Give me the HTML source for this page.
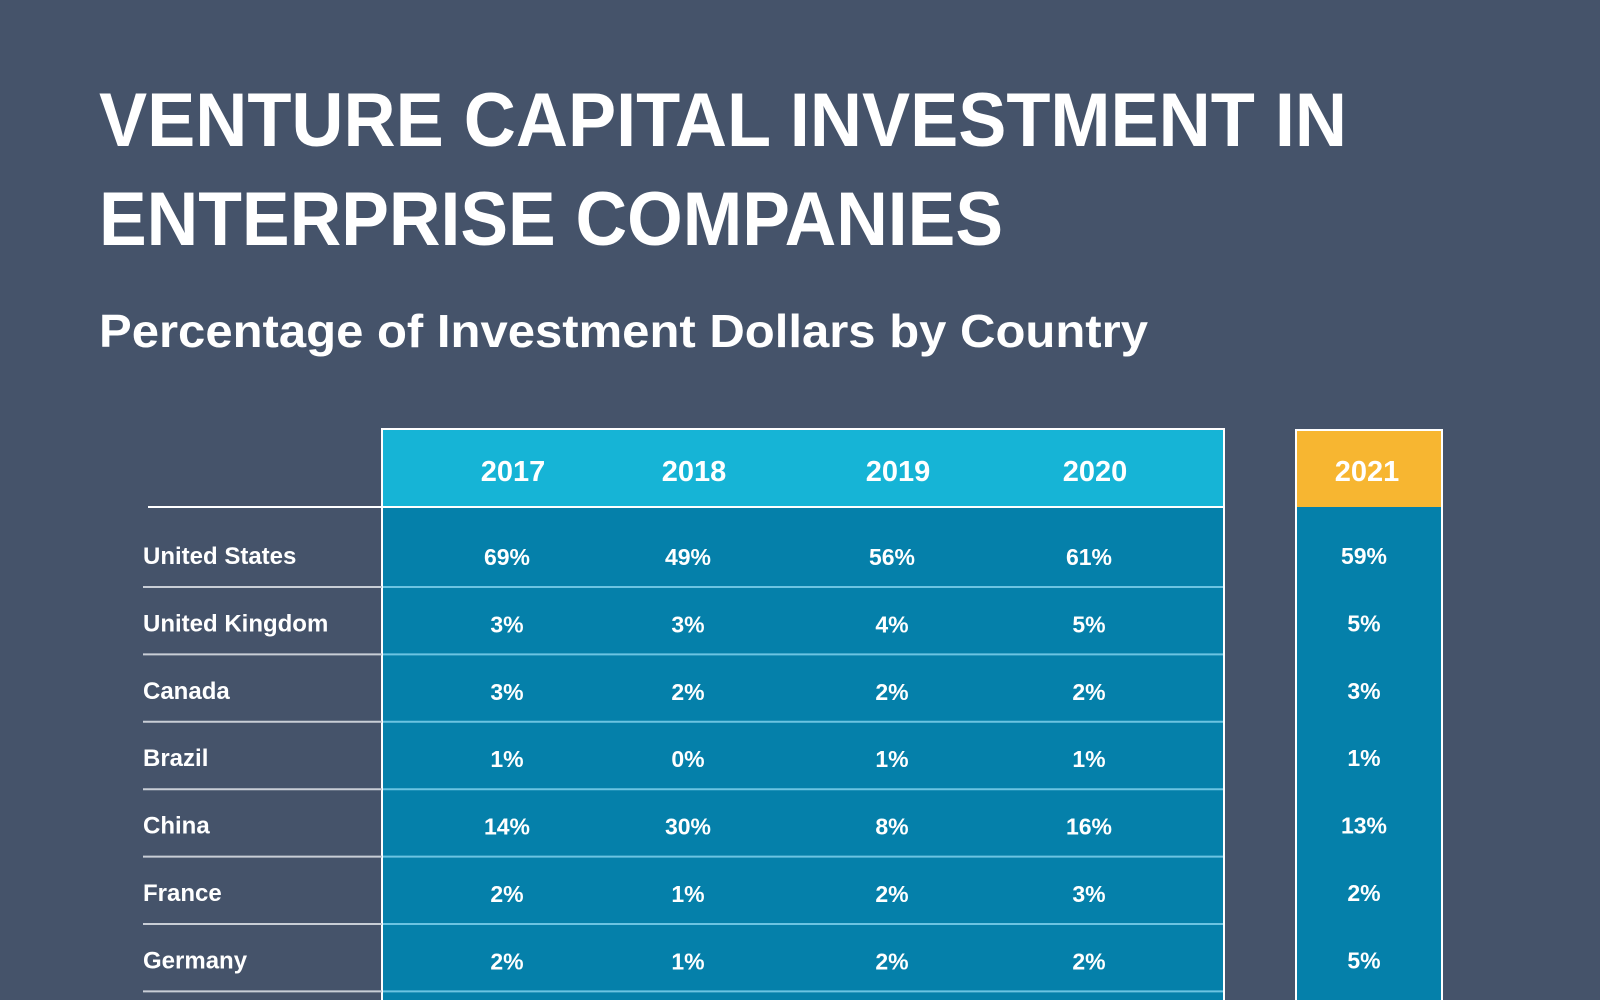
<!DOCTYPE html>
<html><head><meta charset="utf-8"><style>
html,body{margin:0;padding:0;background:#45536a;}
svg{display:block;font-family:"Liberation Sans",sans-serif;font-weight:bold;}
</style></head><body>
<svg id="chart" width="1600" height="1000" viewBox="0 0 1600 1000" xmlns="http://www.w3.org/2000/svg">
<rect x="0" y="0" width="1600" height="1000" fill="#45536a"/>
<text x="99" y="146" fill="#fff" font-size="76" textLength="1248" lengthAdjust="spacingAndGlyphs">VENTURE CAPITAL INVESTMENT IN</text>
<text x="99" y="245" fill="#fff" font-size="76" textLength="904" lengthAdjust="spacingAndGlyphs">ENTERPRISE COMPANIES</text>
<text x="99" y="347" fill="#fff" font-size="46" textLength="1049" lengthAdjust="spacingAndGlyphs">Percentage of Investment Dollars by Country</text>
<g id="g"></g>
</svg>
<script>
const years = ["2017","2018","2019","2020"];
const highlightYear = "2021";
const countries = ["United States","United Kingdom","Canada","Brazil","China","France","Germany"];
const v2017 = [69,3,3,1,14,2,2];
const v2018 = [49,3,2,0,30,1,1];
const v2019 = [56,4,2,1,8,2,2];
const v2020 = [61,5,2,1,16,3,2];
const v2021 = [59,5,3,1,13,2,5];

const NS="http://www.w3.org/2000/svg";
const g=document.getElementById('g');
function mk(tag,attrs,text){const e=document.createElementNS(NS,tag);for(const k in attrs)e.setAttribute(k,attrs[k]);if(text!==undefined)e.textContent=text;g.appendChild(e);return e;}
const colX=[513,694,898,1095];
const col21=1367;
const headTop=429, headBot=507, rowH=67.4, firstLine=587;
const lineY=i=>firstLine+rowH*i;
const textY=i=>564+rowH*i;

let e=mk('rect',{x:382,y:headTop,width:842,height:1000-headTop+5,fill:'#0580aa',stroke:'#fff','stroke-width':2});


e=mk('rect',{x:383,y:headTop+1,width:840,height:headBot-headTop-1,fill:'#16b4d6'});


e=mk('rect',{x:1296,y:430,width:146,height:600,fill:'#0580aa',stroke:'#fff','stroke-width':2});


e=mk('rect',{x:1297,y:431,width:144,height:headBot-431,fill:'#f7b631'});



e=mk('line',{x1:148,x2:1224,y1:headBot,y2:headBot,stroke:'#fff','stroke-width':2});



years.forEach((y,i)=>{
  const t=mk('text',{x:colX[i],y:481,'text-anchor':'middle',fill:'#fff','font-size':29},y);
  
  
});
e=mk('text',{x:col21,y:481,'text-anchor':'middle',fill:'#fff','font-size':29},highlightYear);



const series=[v2017,v2018,v2019,v2020];
countries.forEach((c,i)=>{
  const lb=lineY(i);
  const ty=textY(i);
  let l=mk('line',{x1:143,x2:382,y1:lb,y2:lb,stroke:'#c9ced6','stroke-width':2});
  
  
  l=mk('line',{x1:383,x2:1223,y1:lb,y2:lb,stroke:'#6cc4e2','stroke-width':2});
  
  
  const t=mk('text',{x:143,y:ty,fill:'#fff','font-size':24},c);
  
  
  series.forEach((s,j)=>{
    const v=mk('text',{x:colX[j]-6,y:ty+1,'text-anchor':'middle',fill:'#fff','font-size':23},s[i]+'%');
    
    
  });
  const v=mk('text',{x:col21-3,y:ty,'text-anchor':'middle',fill:'#fff','font-size':23},v2021[i]+'%');
  
  
});
</script>
</body></html>
